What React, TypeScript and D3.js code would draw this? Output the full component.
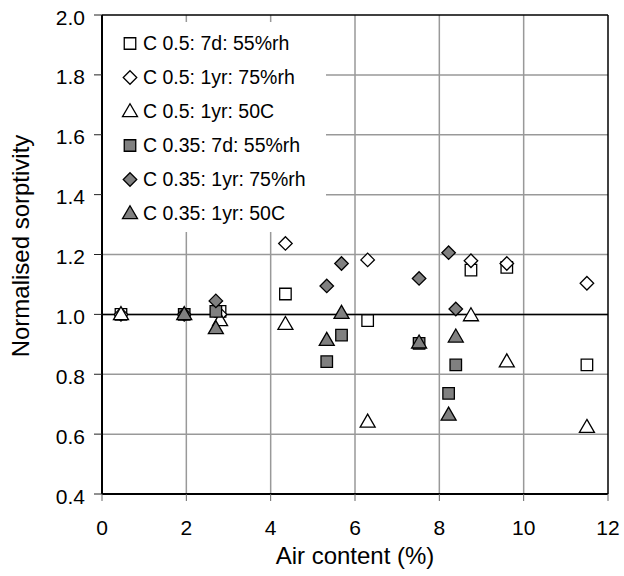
import React from "react";
import * as d3 from "d3";

const xTicks = [0, 2, 4, 6, 8, 10, 12];
const yTicks = [0.4, 0.6, 0.8, 1.0, 1.2, 1.4, 1.6, 1.8, 2.0];

const airC05 = [0.45, 2.8, 4.35, 6.3, 8.75, 9.6, 11.5];
const airC035 = [1.95, 2.7, 5.33, 5.68, 7.52, 8.22, 8.39];

const c05_7d = [1.0, 1.01, 1.068, 0.979, 1.148, 1.157, 0.831];
const c05_1yr75 = [1.0, 1.0, 1.237, 1.182, 1.179, 1.17, 1.104];
const c05_1yr50 = [1.0, 0.98, 0.967, 0.641, 0.996, 0.842, 0.623];
const c035_7d = [1.0, 1.01, 0.842, 0.931, 0.903, 0.736, 0.831];
const c035_1yr75 = [1.0, 1.045, 1.095, 1.17, 1.12, 1.206, 1.018];
const c035_1yr50 = [1.0, 0.953, 0.914, 1.004, 0.905, 0.664, 0.925];

const seriesNames = [
  "C 0.5: 7d: 55%rh",
  "C 0.5: 1yr: 75%rh",
  "C 0.5: 1yr: 50C",
  "C 0.35: 7d: 55%rh",
  "C 0.35: 1yr: 75%rh",
  "C 0.35: 1yr: 50C",
];

type Shape = "square" | "diamond" | "triangle";
const series: { name: string; x: number[]; y: number[]; shape: Shape; fill: string }[] = [
  { name: seriesNames[0], x: airC05, y: c05_7d, shape: "square", fill: "#ffffff" },
  { name: seriesNames[1], x: airC05, y: c05_1yr75, shape: "diamond", fill: "#ffffff" },
  { name: seriesNames[2], x: airC05, y: c05_1yr50, shape: "triangle", fill: "#ffffff" },
  { name: seriesNames[3], x: airC035, y: c035_7d, shape: "square", fill: "#808080" },
  { name: seriesNames[4], x: airC035, y: c035_1yr75, shape: "diamond", fill: "#808080" },
  { name: seriesNames[5], x: airC035, y: c035_1yr50, shape: "triangle", fill: "#808080" },
];

const W = 624, H = 576;
const L = 102, R = 608, T = 15, B = 494;
const FONT = "'Liberation Sans', Arial, Helvetica, sans-serif";

function markerPath(shape: Shape, cx: number, cy: number): string {
  if (shape === "square") {
    const s = 5.75;
    return `M${cx - s},${cy - s}H${cx + s}V${cy + s}H${cx - s}Z`;
  }
  if (shape === "diamond") {
    const s = 6.75;
    return `M${cx},${cy - s}L${cx + s},${cy}L${cx},${cy + s}L${cx - s},${cy}Z`;
  }
  const w = 7.5, h = 13;
  return `M${cx},${cy - h * 0.6}L${cx + w},${cy + h * 0.4}L${cx - w},${cy + h * 0.4}Z`;
}

export default function App() {
  const x = d3.scaleLinear().domain([0, 12]).range([L, R]);
  const y = d3.scaleLinear().domain([0.4, 2.0]).range([B, T]);
  const fmtY = d3.format(".1f");

  const legX = 130, legTextX = 143, legY0 = 43.5, legDy = 34;

  return (
    <svg width={W} height={H} style={{ position: "absolute", left: 0, top: 0, background: "#fff" }} fontFamily={FONT}>
      <rect x={0} y={0} width={W} height={H} fill="#fff" />
      {/* gridlines */}
      {xTicks.slice(1, -1).map((t) => (
        <line key={"gx" + t} x1={x(t)} x2={x(t)} y1={T} y2={B} stroke="#999" strokeWidth={1.5} />
      ))}
      {yTicks.slice(1, -1).map((t) => (
        <line key={"gy" + t} x1={L} x2={R} y1={y(t)} y2={y(t)} stroke="#999" strokeWidth={1.5} />
      ))}
      {/* legend background */}
      <rect x={L + 1} y={22} width={223} height={210} fill="#fff" />
      {/* reference line at 1.0 */}
      <line x1={L} x2={R} y1={y(1.0)} y2={y(1.0)} stroke="#000" strokeWidth={1.5} />
      {/* frame */}
      <line x1={L} x2={R} y1={T} y2={T} stroke="#000" strokeWidth={1.5} />
      <line x1={R} x2={R} y1={T} y2={B} stroke="#000" strokeWidth={1.5} />
      <line x1={L} x2={L} y1={T} y2={B} stroke="#000" strokeWidth={2} />
      <line x1={L} x2={R} y1={B} y2={B} stroke="#000" strokeWidth={2} />
      {/* ticks */}
      {yTicks.map((t) => (
        <g key={"ty" + t}>
          <line x1={L - 8} x2={L} y1={y(t)} y2={y(t)} stroke="#222" strokeWidth={1} />
          <text x={85} y={y(t) + 9.5} textAnchor="end" fontSize={21} fill="#000">
            {fmtY(t)}
          </text>
        </g>
      ))}
      {xTicks.map((t) => (
        <g key={"tx" + t}>
          <line x1={x(t)} x2={x(t)} y1={B} y2={B + 7} stroke="#666" strokeWidth={1} />
          <text x={x(t)} y={535} textAnchor="middle" fontSize={21} fill="#000">
            {t}
          </text>
        </g>
      ))}
      {/* axis titles */}
      <text x={(L + R) / 2} y={564} textAnchor="middle" fontSize={24} fill="#000">
        Air content (%)
      </text>
      <text transform={`translate(29,246) rotate(-90)`} textAnchor="middle" fontSize={24} fill="#000">
        Normalised sorptivity
      </text>
      {/* points */}
      {series.map((s, si) => (
        <g key={"s" + si}>
          {s.x.map((xv, i) => (
            <path key={i} d={markerPath(s.shape, x(xv), y(s.y[i]))} fill={s.fill} stroke="#000" strokeWidth={1.3} />
          ))}
        </g>
      ))}
      {/* legend */}
      {series.map((s, si) => (
        <g key={"l" + si}>
          <path d={markerPath(s.shape, legX, legY0 + si * legDy)} fill={s.fill} stroke="#000" strokeWidth={1.3} />
          <text x={legTextX} y={legY0 + si * legDy} dy="0.35em" fontSize={19.5} fill="#000">
            {s.name}
          </text>
        </g>
      ))}
    </svg>
  );
}
